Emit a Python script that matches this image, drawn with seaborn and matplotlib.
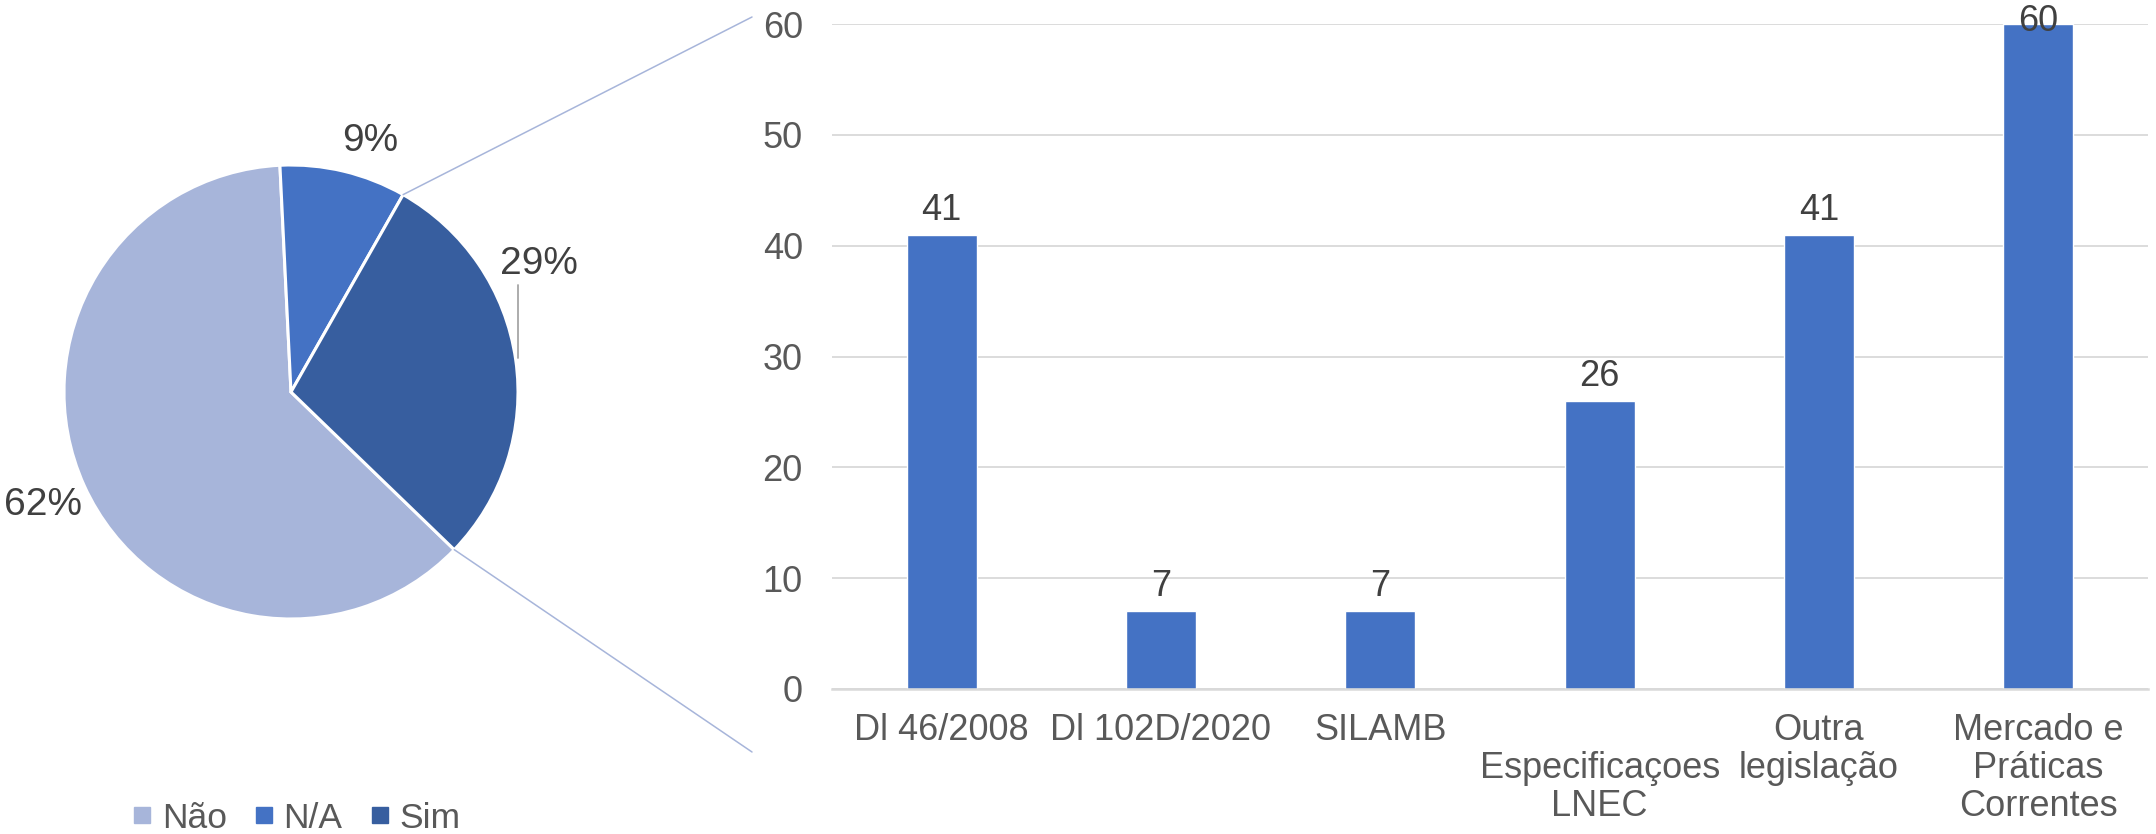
import numpy as np
import pandas as pd
import matplotlib.pyplot as plt
import seaborn as sns
from matplotlib.patches import ConnectionPatch
from matplotlib.lines import Line2D

# data
pie_labels = ['Não', 'N/A', 'Sim']
pie_values = [62, 9, 29]
pie_colors = ['#A7B5DA', '#4472C4', '#375E9F']

categories = ['Dl 46/2008', 'Dl 102D/2020', 'SILAMB', '\nEspecificaçoes\nLNEC',
              'Outra\nlegislação', 'Mercado e\nPráticas\nCorrentes']
counts = [41, 7, 7, 26, 41, 60]

sns.set_theme(style='white')
plt.rcParams['font.family'] = ['Liberation Sans', 'DejaVu Sans']

W, H = 2156, 834
fig = plt.figure(figsize=(W / 100, H / 100), dpi=100)

# ---- pie ----
cx, cy, r = 291, 392, 227
ax_pie = fig.add_axes([(cx - r) / W, 1 - (cy + r) / H, 2 * r / W, 2 * r / H])
wedges, _ = ax_pie.pie(pie_values, colors=pie_colors, startangle=-44, counterclock=False,
                       wedgeprops=dict(edgecolor='white', linewidth=2.2))
ax_pie.set_xlim(-1, 1)
ax_pie.set_ylim(-1, 1)
ax_pie.set_aspect('equal')
ax_pie.axis('off')

total = sum(pie_values)
# label placement: (angle shift in degrees, radius)
lab_pos = {'Não': (0, 1.2), 'N/A': (-4, 1.16), 'Sim': (19, 1.23)}
for w, name, v in zip(wedges, pie_labels, pie_values):
    mid = (w.theta1 + w.theta2) / 2 + lab_pos[name][0]
    rr = lab_pos[name][1]
    ax_pie.text(rr * np.cos(np.radians(mid)), rr * np.sin(np.radians(mid)),
                f'{round(100 * v / total)}%', ha='center', va='center',
                fontsize=28, color='#404040', clip_on=False)

# leader line for Sim label
ax_pie.plot([1.0, 1.0], [0.15, 0.47], color='#A6A6A6', lw=1.3, clip_on=False)

# connector lines from Sim slice to bar chart
sim = wedges[2]
for th, yfig in [(sim.theta2, 1 - 17 / H), (sim.theta1, 1 - 752 / H)]:
    p = (np.cos(np.radians(th)), np.sin(np.radians(th)))
    con = ConnectionPatch(xyA=p, coordsA=ax_pie.transData, xyB=(752 / W, yfig),
                          coordsB=fig.transFigure, color='#A7B5DA', lw=1.1)
    fig.add_artist(con)

# legend
handles = [Line2D([], [], marker='s', linestyle='none', markersize=11,
                  markerfacecolor=c, markeredgecolor=c) for c in pie_colors]
fig.legend(handles, pie_labels, loc='center', bbox_to_anchor=(297 / W, 1 - 818 / H),
           ncol=3, frameon=False, fontsize=25.5, handlelength=0.5, handletextpad=0.3,
           columnspacing=0.8, labelcolor='#595959')

# ---- bars ----
ax = fig.add_axes([832 / W, 1 - 689 / H, (2148 - 832) / W, (689 - 24) / H])
df = pd.DataFrame({'cat': categories, 'n': counts})
sns.barplot(data=df, x='cat', y='n', color='#4472C4', saturation=1, width=0.32, ax=ax)
ax.set_ylim(0, 60)
ax.set_xlim(-0.5, 5.5)
ax.set_yticks(range(0, 61, 10))
ax.yaxis.grid(True, color='#D9D9D9', lw=1.3)
ax.set_axisbelow(True)
for s in ['top', 'right', 'left']:
    ax.spines[s].set_visible(False)
ax.spines['bottom'].set_color('#D9D9D9')
ax.spines['bottom'].set_linewidth(1.8)
ax.set_xlabel('')
ax.set_ylabel('')
ax.tick_params(axis='y', length=0, pad=21, labelsize=26, labelcolor='#595959')
ax.tick_params(axis='x', length=0, pad=17, labelsize=26, labelcolor='#595959')
for t in ax.get_xticklabels():
    t.set_linespacing(1.12)

labels = ax.bar_label(ax.containers[0], padding=5, fontsize=26, color='#404040')
for lab, v in zip(labels, counts):
    if v == max(counts):
        lab.xyann = (0, -11)
    lab.set_clip_on(False)

fig.savefig('out.png', dpi=100)
